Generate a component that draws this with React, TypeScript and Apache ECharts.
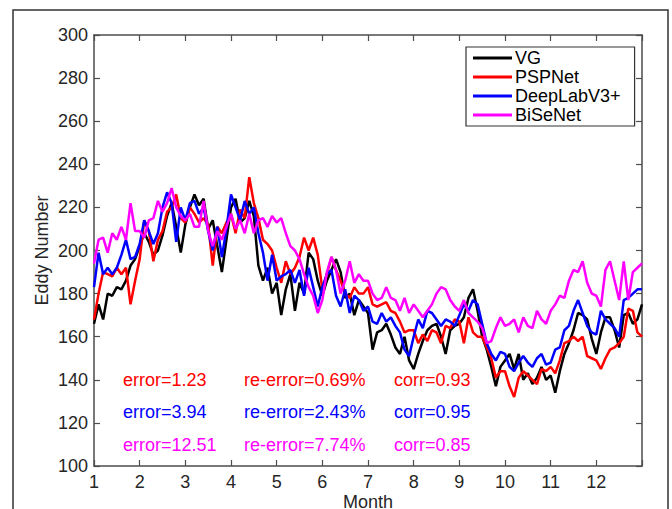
import React, { useEffect, useRef } from "react";
import * as echarts from "echarts";

// Sampled every 0.1 month from 1.0 to 13.0
const START_MONTH = 1;
const STEP = 0.1;

const vg = [
  166, 175, 168, 180, 179, 183, 182, 186, 193, 196,
  202, 208, 204, 198, 200, 207, 216, 222, 211, 199,
  212, 220, 226, 221, 224, 210, 214, 202, 190, 205,
  220, 224, 213, 215, 223, 216, 193, 186, 192, 180,
  185, 170, 182, 189, 172, 185, 180, 199, 196, 186,
  179, 186, 191, 196, 190, 178, 180, 170, 177, 174,
  171, 154, 162, 163, 166, 161, 155, 152, 160, 149,
  145, 152, 158, 163, 165, 166, 160, 152, 163, 165,
  166, 169, 178, 182, 172, 160, 154, 146, 137, 146,
  149, 152, 145, 152, 140, 143, 138, 141, 146, 140,
  142, 134, 144, 152, 157, 163, 171, 170, 168, 159,
  152, 162, 169, 169, 163, 155, 170, 171, 166, 168,
  175,
];

const pspnet = [
  168, 180, 190, 189, 188, 192, 189, 192, 175, 186,
  196, 214, 209, 195, 205, 209, 218, 220, 226, 215,
  213, 220, 217, 213, 215, 212, 193, 211, 208, 213,
  217, 208, 219, 215, 234, 222, 215, 205, 203, 200,
  192, 185, 195, 189, 192, 197, 206, 200, 206, 198,
  182, 189, 197, 191, 186, 180, 178, 183, 180, 180,
  183, 175, 174, 175, 176, 172, 171, 167, 162, 163,
  163, 157, 161, 158, 163, 162, 157, 165, 164, 168,
  167, 157, 169, 162, 160, 160, 155, 150, 141, 144,
  144, 137, 132, 141, 144, 142, 140, 138, 145, 144,
  146, 143, 149, 157, 158, 160, 158, 160, 151, 150,
  149, 145, 150, 154, 155, 157, 160, 173, 172, 162,
  160,
];

const deeplab = [
  183, 199, 189, 192, 189, 192, 198, 205, 196, 197,
  203, 214, 209, 203, 208, 220, 227, 222, 204, 220,
  214, 222, 223, 217, 220, 209, 200, 211, 197, 210,
  226, 220, 214, 223, 217, 220, 208, 199, 186, 198,
  186, 188, 189, 191, 185, 191, 179, 192, 183, 174,
  183, 189, 191, 179, 174, 182, 171, 179, 177, 172,
  174, 167, 166, 171, 167, 169, 165, 162, 154, 151,
  160, 168, 164, 172, 171, 168, 165, 168, 167, 165,
  170, 175, 172, 177, 175, 166, 157, 152, 149, 153,
  152, 146, 144, 148, 151, 148, 146, 150, 152, 147,
  148, 154, 155, 163, 165, 172, 177, 171, 165, 162,
  161, 172, 168, 166, 164, 160, 177, 178, 180, 182,
  182,
];

const bisenet = [
  194, 205, 206, 199, 208, 205, 211, 205, 222, 209,
  209, 206, 214, 215, 223, 218, 222, 229, 220, 216,
  214, 217, 211, 211, 223, 209, 202, 209, 205, 211,
  217, 210, 214, 208, 217, 208, 214, 215, 211, 216,
  213, 215, 208, 202, 200, 196, 189, 183, 179, 171,
  177, 190, 197, 191, 180, 186, 195, 185, 189, 186,
  186, 180, 177, 178, 183, 178, 177, 172, 178, 171,
  175, 172, 169, 172, 175, 180, 183, 182, 177, 174,
  172, 177, 171, 169, 167, 164, 157, 158, 164, 169,
  165, 166, 168, 162, 169, 165, 164, 172, 168, 166,
  172, 175, 179, 178, 186, 191, 190, 195, 185, 180,
  179, 174, 191, 195, 186, 177, 195, 177, 190, 192,
  194,
];

const seriesNames = ["VG", "PSPNet", "DeepLabV3+", "BiSeNet"];
const seriesColors = ["#000000", "#ff0000", "#0000ff", "#ff00ff"];
const seriesValues = [vg, pspnet, deeplab, bisenet];

const annotationRows = [
  { color: "#ff0000", texts: ["error=1.23", "re-error=0.69%", "corr=0.93"] },
  { color: "#0000ff", texts: ["error=3.94", "re-error=2.43%", "corr=0.95"] },
  { color: "#ff00ff", texts: ["error=12.51", "re-error=7.74%", "corr=0.85"] },
];

const FONT = "'Liberation Sans', Arial, Helvetica, sans-serif";
const AXIS_COLOR = "#4d4d4d";
const TEXT_COLOR = "#262626";
const FS = 18;

export default function App() {
  const ref = useRef<HTMLDivElement>(null);

  useEffect(() => {
    document.body.style.margin = "0";
    document.body.style.overflow = "hidden";
    document.documentElement.style.overflow = "hidden";
    if (!ref.current) return;
    const chart = echarts.init(ref.current, null, { renderer: "svg", width: 672, height: 509 });

    const toPairs = (vals: number[]) =>
      vals.map((v, i) => [START_MONTH + i * STEP, v]);

    const colX = [123, 244, 394];
    const rowY = [380, 412, 445];

    const graphic: any[] = [
      {
        type: "rect",
        shape: { x: 13, y: 10, width: 655, height: 530 },
        style: { fill: "none", stroke: "#333", lineWidth: 1.5 },
        silent: true,
        z: -10,
      },
    ];
    annotationRows.forEach((row, r) => {
      row.texts.forEach((t, c) => {
        graphic.push({
          type: "text",
          x: colX[c],
          y: rowY[r],
          style: {
            text: t,
            fill: row.color,
            font: `${FS}px ${FONT}`,
            verticalAlign: "middle",
          },
          z: 10,
        });
      });
    });

    const tickInside = { show: true, inside: true, length: 6, lineStyle: { color: AXIS_COLOR, width: 1.2 } };
    const axisLine = { show: true, lineStyle: { color: AXIS_COLOR, width: 1.5 } };

    chart.setOption({
      animation: false,
      backgroundColor: "#ffffff",
      textStyle: { fontFamily: FONT },
      grid: { left: 94, right: 30, top: 35, bottom: 43, containLabel: false, outerBoundsMode: "none" },
      legend: {
        orient: "vertical",
        left: 466,
        top: 47,
        icon: "rect",
        itemWidth: 39,
        itemHeight: 3,
        itemGap: 1,
        padding: [2, 14, 2, 7],
        backgroundColor: "#ffffff",
        borderColor: "#333",
        borderWidth: 1.2,
        borderRadius: 0,
        textStyle: { fontSize: FS, lineHeight: 18, color: "#000", fontFamily: FONT, padding: [0, 0, 0, -2] },
        data: seriesNames,
        z: 20,
      },
      xAxis: [
        {
          type: "value",
          min: 1,
          max: 13,
          interval: 1,
          position: "bottom",
          name: "Month",
          nameLocation: "middle",
          nameGap: 27,
          nameMoveOverlap: false,
          nameTextStyle: { fontSize: FS, lineHeight: 18, color: TEXT_COLOR, fontFamily: FONT, verticalAlign: "top" },
          axisLine,
          axisTick: tickInside,
          splitLine: { show: false },
          axisLabel: {
            fontSize: FS,
            color: TEXT_COLOR,
            margin: 7,
            fontFamily: FONT,
            formatter: (v: number) => (v >= 13 ? "" : String(v)),
          },
        },
        {
          type: "value",
          min: 1,
          max: 13,
          interval: 1,
          position: "top",
          axisLine,
          axisTick: tickInside,
          splitLine: { show: false },
          axisLabel: { show: false },
        },
      ],
      yAxis: [
        {
          type: "value",
          min: 100,
          max: 300,
          interval: 20,
          position: "left",
          name: "Eddy Number",
          nameLocation: "middle",
          nameGap: 43,
          nameMoveOverlap: false,
          nameTextStyle: { fontSize: FS, color: TEXT_COLOR, fontFamily: FONT },
          axisLine,
          axisTick: tickInside,
          splitLine: { show: false },
          axisLabel: { fontSize: FS, color: TEXT_COLOR, margin: 6, fontFamily: FONT },
        },
        {
          type: "value",
          min: 100,
          max: 300,
          interval: 20,
          position: "right",
          axisLine,
          axisTick: tickInside,
          splitLine: { show: false },
          axisLabel: { show: false },
        },
      ],
      series: seriesNames.map((name, i) => ({
        name,
        type: "line",
        xAxisIndex: 0,
        yAxisIndex: 0,
        data: toPairs(seriesValues[i]),
        showSymbol: false,
        symbol: "none",
        lineStyle: { color: seriesColors[i], width: 2.5 },
        itemStyle: { color: seriesColors[i] },
        z: 2 + i,
      })),
      graphic,
    });

    return () => chart.dispose();
  }, []);

  return <div ref={ref} style={{ width: 672, height: 509 }} />;
}
